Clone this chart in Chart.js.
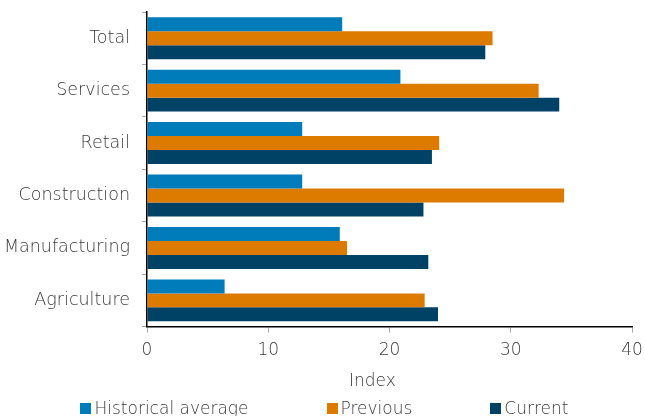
<!DOCTYPE html>
<html><head><meta charset="utf-8">
<script src="https://cdn.jsdelivr.net/npm/chart.js@4"></script>
<style>
html,body{margin:0;padding:0;background:#fff;overflow:hidden;}
#wrap{position:relative;width:645px;height:416px;overflow:hidden;font-family:'DejaVu Sans',sans-serif;font-weight:300;color:#3a3a3a;}
#legend{position:absolute;left:0;width:645px;padding-left:4px;box-sizing:border-box;top:398px;display:flex;justify-content:center;gap:78px;font-size:17px;white-space:nowrap;}
#xtitle{position:absolute;left:349px;top:370px;font-size:17px;white-space:nowrap;}
.item{display:flex;align-items:center;}
.box{width:11px;height:11px;margin-right:3px;}
</style></head><body>
<div id="wrap"><canvas id="c" width="645" height="416"></canvas><div id="xtitle"></div><div id="legend"></div></div>
<script>
const categories = ['Total','Services','Retail','Construction','Manufacturing','Agriculture'];
const seriesNames = ['Historical average','Previous','Current'];
const historicalAverage = [16.1,20.9,12.8,12.8,15.9,6.4];
const previous = [28.5,32.3,24.1,34.4,16.5,22.9];
const current = [27.9,34.0,23.5,22.8,23.2,24.0];
const xTicks = [0,10,20,30,40];
const xAxisTitle = 'Index';
const colors = ['#007cba','#dd7a00','#004266'];

const FONT = "'DejaVu Sans', sans-serif";
const datasets = [historicalAverage, previous, current].map((d,i)=>({
  label: seriesNames[i], data: d, backgroundColor: colors[i], borderWidth: 0,
  categoryPercentage: 0.8, barPercentage: 1.0
}));

new Chart(document.getElementById('c'), {
  type: 'bar',
  data: { labels: categories, datasets },
  options: {
    indexAxis: 'y', responsive: false, animation: false,
    layout: { padding: { top: 12, left: 0, right: 0, bottom: 47 } },
    plugins: { legend: { display: false }, tooltip: { enabled: false } },
    scales: {
      x: {
        min: xTicks[0], max: xTicks[xTicks.length-1],
        afterBuildTicks: s => { s.ticks = xTicks.map(v => ({value: v})); },
        afterFit: s => { s.paddingRight = 13; s.paddingLeft = 0; },
        grid: { drawOnChartArea: false, drawTicks: true, tickLength: 6, color: '#aaa' },
        border: { color: '#000', width: 1.5 },
        ticks: { padding: 8, color: '#3a3a3a', font: { family: FONT, size: 17, weight: '300' } },
        title: { display: false }
      },
      y: {
        afterFit: s => { s.width = 147; s.paddingTop = 0; s.paddingBottom = 0; },
        grid: { drawOnChartArea: false, drawTicks: true, tickLength: 5, color: '#aaa' },
        border: { color: '#000', width: 1.5 },
        ticks: { padding: 12, color: '#3a3a3a', font: { family: FONT, size: 17.5, weight: '300' } }
      }
    }
  }
});

document.getElementById('xtitle').textContent = xAxisTitle;
const lg = document.getElementById('legend');
seriesNames.forEach((n,i)=>{
  const it = document.createElement('div'); it.className='item';
  const b = document.createElement('span'); b.className='box'; b.style.background=colors[i];
  const t = document.createElement('span'); t.textContent = n;
  it.appendChild(b); it.appendChild(t); lg.appendChild(it);
});
</script>
</body></html>
